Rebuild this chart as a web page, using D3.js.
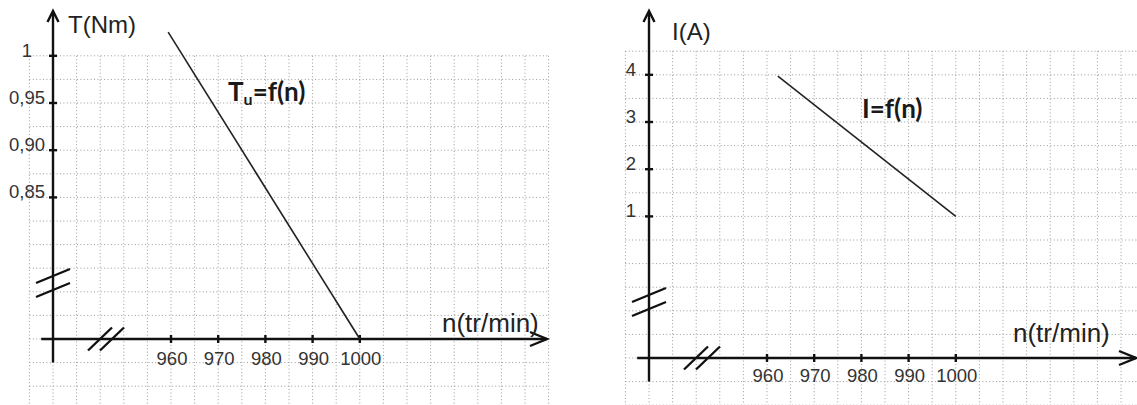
<!DOCTYPE html>
<html>
<head>
<meta charset="utf-8">
<script src="https://cdn.jsdelivr.net/npm/d3@7/dist/d3.min.js"></script>
<style>
    html, body { margin: 0; padding: 0; background: #fff; }
    svg { display: block; }
    .grid line { stroke: #9a9a9a; stroke-width: 1; stroke-dasharray: 1,2.4; }
    .axis { stroke: #111; stroke-width: 2.4; fill: none; }
    .tick-label { font-family: 'Liberation Sans', Arial, sans-serif; font-size: 18.5px; fill: #333; }
    .axis-title { font-family: 'Liberation Sans', Arial, sans-serif; font-size: 24px; fill: #222; }
    .curve-label { font-family: Lato, 'Open Sans', sans-serif; font-weight: 700; font-size: 26px; fill: #1a1a1a; }
    .curve { stroke: #222; stroke-width: 1.6; fill: none; }
</style>
</head>
<body>
<svg id="chart" width="1137" height="405"></svg>
<script>
// values
var speedTicks = [ 960, 970, 980, 990, 1000 ];
var speedTickLabels = [ '960', '970', '980', '990', '1000' ];

var torqueTicks = [ 0.85, 0.90, 0.95, 1 ];
var torqueTickLabels = [ '0,85', '0,90', '0,95', '1' ];
var torqueSpeed = [ 959.4, 1000 ];
var torqueValues = [ 1.025, 0 ];

var currentTicks = [ 1, 2, 3, 4 ];
var currentTickLabels = [ '1', '2', '3', '4' ];
var currentSpeed = [ 962.3, 1000 ];
var currentValues = [ 3.97, 1.0 ];

(function(){
    'use strict';

    var svg = d3.select( '#chart' ),
        W = 1137,
        H = 405,
        g = 23.6; // graph paper square

    var panels = [
        {
            ox: 53, oy: 339,
            gridTop: 12, gridRight: 21,
            yBreak: [ 0, 0.80, 1 ], yRange: [ 0, 4, 12 ],
            yTicks: torqueTicks, yLabels: torqueTickLabels, yLabelDx: -26,
            ns: torqueSpeed, vs: torqueValues,
            yTitle: 'T(Nm)', yTitlePos: [ 15, -306 ],
            xTitlePos: [ 389, -7 ], xEnd: 547,
            xLabelDy: 26,
            curve: [ 'T', 'u', '=f(n)' ], curvePos: [ 175, -238 ]
        },
        {
            ox: 649, oy: 358,
            gridTop: 13, gridRight: 21,
            yBreak: [ 0, 1, 4 ], yRange: [ 0, 6, 12 ],
            yTicks: currentTicks, yLabels: currentTickLabels, yLabelDx: -18,
            ns: currentSpeed, vs: currentValues,
            yTitle: 'I(A)', yTitlePos: [ 23, -318 ],
            xTitlePos: [ 364, -16 ], xEnd: 1136,
            xLabelDy: 24,
            curve: [ 'I=f(n)' ], curvePos: [ 213, -240 ]
        }
    ];

    panels.forEach( function( p ){
        var ox = p.ox,
            oy = p.oy,
            x = d3.scaleLinear()
                .domain( [ 0, 950, 1000 ] )
                .range( [ ox, ox + 3 * g, ox + 13 * g ] ),
            y = d3.scaleLinear()
                .domain( p.yBreak )
                .range( p.yRange.map( function( k ){ return oy - k * g; } ) ),
            $g = svg.append( 'g' ),
            $grid = $g.append( 'g' ).attr( 'class', 'grid' ),
            gx = d3.range( -1, p.gridRight + 1 ).map( function( k ){ return ox + k * g; } )
                .filter( function( v ){ return v <= W; } ),
            gy = d3.range( -3, p.gridTop + 1 ).map( function( k ){ return oy - k * g; } )
                .filter( function( v ){ return v <= H + 1; } ),
            top = oy - p.gridTop * g,
            left = ox - g,
            right = Math.min( W, ox + p.gridRight * g );

        // graph paper
        $grid.selectAll( 'line.v' )
            .data( gx )
            .enter().append( 'line' )
            .attr( 'x1', function( d ){ return d; } )
            .attr( 'x2', function( d ){ return d; } )
            .attr( 'y1', top )
            .attr( 'y2', H );

        $grid.selectAll( 'line.h' )
            .data( gy )
            .enter().append( 'line' )
            .attr( 'x1', left )
            .attr( 'x2', right )
            .attr( 'y1', function( d ){ return d; } )
            .attr( 'y2', function( d ){ return d; } );

        // axes
        $g.append( 'line' ).attr( 'class', 'axis' )
            .attr( 'x1', ox ).attr( 'x2', ox )
            .attr( 'y1', oy + g ).attr( 'y2', 12 );
        $g.append( 'path' ).attr( 'class', 'axis' )
            .attr( 'stroke-width', 2 )
            .attr( 'd', 'M' + ( ox - 5.5 ) + ',' + 22 + 'L' + ox + ',' + 11 + 'L' + ( ox + 5.5 ) + ',' + 22 );

        $g.append( 'line' ).attr( 'class', 'axis' )
            .attr( 'x1', ox - g / 2 ).attr( 'x2', p.xEnd )
            .attr( 'y1', oy ).attr( 'y2', oy );
        $g.append( 'path' ).attr( 'class', 'axis' )
            .attr( 'stroke-width', 2 )
            .attr( 'd', 'M' + ( p.xEnd - 17 ) + ',' + ( oy - 7 ) + 'L' + p.xEnd + ',' + oy + 'L' + ( p.xEnd - 17 ) + ',' + ( oy + 7 ) );

        // break marks
        [ 49, 63 ].forEach( function( off ){
            $g.append( 'line' ).attr( 'class', 'axis' )
                .attr( 'stroke-width', 2 )
                .attr( 'x1', ox - 17 ).attr( 'y1', oy - off + 7 )
                .attr( 'x2', ox + 17 ).attr( 'y2', oy - off - 7 );
        } );
        [ 47, 59 ].forEach( function( off ){
            $g.append( 'line' ).attr( 'class', 'axis' )
                .attr( 'stroke-width', 2 )
                .attr( 'x1', ox + off - 12 ).attr( 'y1', oy + 11.5 )
                .attr( 'x2', ox + off + 12 ).attr( 'y2', oy - 11.5 );
        } );

        // x ticks
        $g.selectAll( 'line.xt' )
            .data( speedTicks )
            .enter().append( 'line' )
            .attr( 'class', 'axis' )
            .attr( 'stroke-width', 2 )
            .attr( 'x1', function( d ){ return x( d ); } )
            .attr( 'x2', function( d ){ return x( d ); } )
            .attr( 'y1', oy - 4 )
            .attr( 'y2', oy + 4 );

        $g.selectAll( 'text.xl' )
            .data( speedTicks )
            .enter().append( 'text' )
            .attr( 'class', 'tick-label' )
            .attr( 'text-anchor', 'middle' )
            .attr( 'x', function( d ){ return x( d ) + 1; } )
            .attr( 'y', oy + p.xLabelDy )
            .text( function( d, i ){ return speedTickLabels[i]; } );

        // y ticks
        $g.selectAll( 'line.yt' )
            .data( p.yTicks )
            .enter().append( 'line' )
            .attr( 'class', 'axis' )
            .attr( 'stroke-width', 2 )
            .attr( 'x1', ox - 4 )
            .attr( 'x2', ox + 4 )
            .attr( 'y1', function( d ){ return y( d ); } )
            .attr( 'y2', function( d ){ return y( d ); } );

        $g.selectAll( 'text.yl' )
            .data( p.yTicks )
            .enter().append( 'text' )
            .attr( 'class', 'tick-label' )
            .attr( 'text-anchor', 'middle' )
            .attr( 'x', ox + p.yLabelDx )
            .attr( 'y', function( d ){ return y( d ) + 1; } )
            .text( function( d, i ){ return p.yLabels[i]; } );

        // titles
        $g.append( 'text' ).attr( 'class', 'axis-title' )
            .attr( 'x', ox + p.yTitlePos[0] )
            .attr( 'y', oy + p.yTitlePos[1] )
            .text( p.yTitle );
        $g.append( 'text' ).attr( 'class', 'axis-title' )
            .style( 'font-size', '26px' )
            .attr( 'x', ox + p.xTitlePos[0] )
            .attr( 'y', oy + p.xTitlePos[1] )
            .text( 'n(tr/min)' );

        // the characteristic
        $g.append( 'path' )
            .datum( d3.range( p.ns.length ) )
            .attr( 'class', 'curve' )
            .attr( 'd', d3.line()
                .x( function( i ){ return x( p.ns[i] ); } )
                .y( function( i ){ return y( p.vs[i] ); } )
            );

        var $label = $g.append( 'text' ).attr( 'class', 'curve-label' )
            .attr( 'x', ox + p.curvePos[0] )
            .attr( 'y', oy + p.curvePos[1] );

        if ( p.curve.length > 1 ){
            $label.append( 'tspan' ).text( p.curve[0] );
            $label.append( 'tspan' ).attr( 'dy', 4 ).style( 'font-size', '16px' ).text( p.curve[1] );
            $label.append( 'tspan' ).attr( 'dy', -4 ).text( p.curve[2] );
        }else{
            $label.text( p.curve[0] );
        }
    } );
})();
</script>
</body>
</html>
